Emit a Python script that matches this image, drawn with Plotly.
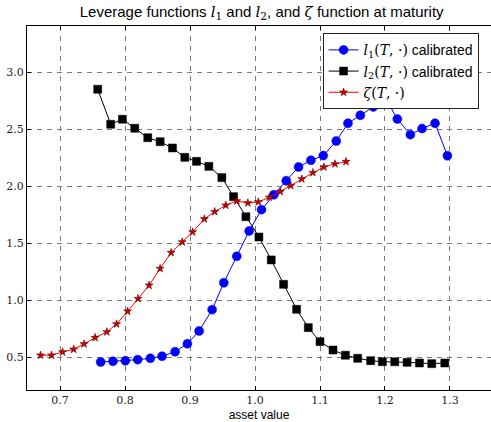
import plotly.graph_objects as go

# ---- data ----
l1_x = [0.7626, 0.7815, 0.8005, 0.8195, 0.839, 0.857, 0.877, 0.896, 0.914, 0.934,
        0.952, 0.972, 0.991, 1.010, 1.029, 1.048, 1.067, 1.086, 1.105, 1.125,
        1.143, 1.162, 1.182, 1.200, 1.219, 1.239, 1.257, 1.277, 1.296]
l1_y = [0.459, 0.465, 0.470, 0.479, 0.491, 0.509, 0.549, 0.619, 0.731, 0.918,
        1.154, 1.386, 1.608, 1.795, 1.926, 2.049, 2.169, 2.228, 2.269, 2.397,
        2.553, 2.623, 2.696, 2.780, 2.590, 2.453, 2.506, 2.553, 2.268]

l2_x = [0.758, 0.778, 0.796, 0.815, 0.835, 0.854, 0.873, 0.892, 0.910, 0.929,
        0.949, 0.967, 0.986, 1.006, 1.025, 1.044, 1.064, 1.082, 1.100, 1.120,
        1.139, 1.158, 1.178, 1.196, 1.215, 1.234, 1.253, 1.272, 1.292]
l2_y = [2.851, 2.544, 2.588, 2.509, 2.426, 2.391, 2.336, 2.254, 2.219, 2.175,
        2.076, 1.909, 1.733, 1.555, 1.354, 1.140, 0.921, 0.760, 0.637, 0.564,
        0.518, 0.491, 0.470, 0.461, 0.461, 0.456, 0.450, 0.444, 0.450]

z_x = [0.670, 0.687, 0.704, 0.721, 0.737, 0.754, 0.772, 0.787, 0.804, 0.820,
       0.837, 0.854, 0.871, 0.888, 0.904, 0.922, 0.938, 0.955, 0.972, 0.989,
       1.005, 1.022, 1.039, 1.055, 1.072, 1.089, 1.106, 1.123, 1.140]
z_y = [0.518, 0.518, 0.546, 0.570, 0.617, 0.672, 0.722, 0.792, 0.903, 1.014,
       1.131, 1.278, 1.418, 1.511, 1.599, 1.713, 1.777, 1.833, 1.871, 1.854,
       1.862, 1.903, 1.953, 2.005, 2.064, 2.119, 2.169, 2.196, 2.216]

x_ticks = [0.7, 0.8, 0.9, 1.0, 1.1, 1.2, 1.3]
y_ticks = [0.5, 1.0, 1.5, 2.0, 2.5, 3.0]

SERIF = "DejaVu Serif"
SANS = "Liberation Sans"

def m(s):
    return '<span style="font-family:%s">%s</span>' % (SERIF, s)

fig = go.Figure()
fig.add_trace(go.Scatter(
    x=l1_x, y=l1_y, mode="lines+markers",
    name=m("<i>l</i><sub>1</sub>(<i>T</i>, ·)") + " calibrated",
    line=dict(color="#0000ff", width=1),
    marker=dict(symbol="circle", size=9, color="#0000ff",
                line=dict(color="#0000ff", width=0.5)),
))
fig.add_trace(go.Scatter(
    x=l2_x, y=l2_y, mode="lines+markers",
    name=m("<i>l</i><sub>2</sub>(<i>T</i>, ·)") + " calibrated",
    line=dict(color="#000000", width=1),
    marker=dict(symbol="square", size=8, color="#000000",
                line=dict(color="#000000", width=0.5)),
))
fig.add_trace(go.Scatter(
    x=z_x, y=z_y, mode="lines+markers",
    name=m("<i>ζ</i>(<i>T</i>, ·)"),
    line=dict(color="#ff0000", width=1),
    marker=dict(symbol="star", size=6, color="#cc0000",
                line=dict(color="#600000", width=0.6)),
))

axis_common = dict(
    showline=True, linecolor="black", linewidth=1,
    ticks="inside", ticklen=4, tickwidth=1, tickcolor="black",
    showgrid=True, gridcolor="#7a7a7a", gridwidth=1, griddash="5px,5px",
    zeroline=False,
    tickfont=dict(family=SERIF, size=11, color="#222"),
)

fig.update_xaxes(
    range=[0.6492, 1.3631], tickvals=x_ticks,
    ticktext=["%.1f" % v for v in x_ticks],
    mirror="ticks",
    title=dict(text="asset value", font=dict(family=SANS, size=12, color="black"),
               standoff=4),
    **axis_common,
)
fig.update_yaxes(
    range=[0.213, 3.406], tickvals=y_ticks,
    ticktext=["%.1f" % v for v in y_ticks],
    mirror=False,
    **axis_common,
)

fig.update_layout(
    width=491, height=422,
    margin=dict(l=27, r=0, t=26, b=32),
    paper_bgcolor="white", plot_bgcolor="white",
    title=dict(
        text="Leverage functions " + m("<i>l</i><sub>1</sub>") + " and "
             + m("<i>l</i><sub>2</sub>") + ", and " + m("<i>ζ</i>")
             + " function at maturity",
        font=dict(family=SANS, size=15, color="black"),
        x=0.533, xanchor="center", y=0.973, yanchor="middle",
    ),
    legend=dict(
        x=0.637, y=0.98, xanchor="left", yanchor="top",
        bgcolor="white", bordercolor="#222", borderwidth=1,
        font=dict(family=SANS, size=14, color="black"),
        itemwidth=30, tracegroupgap=0,
    ),
    showlegend=True,
)

fig.write_html("out.html")
